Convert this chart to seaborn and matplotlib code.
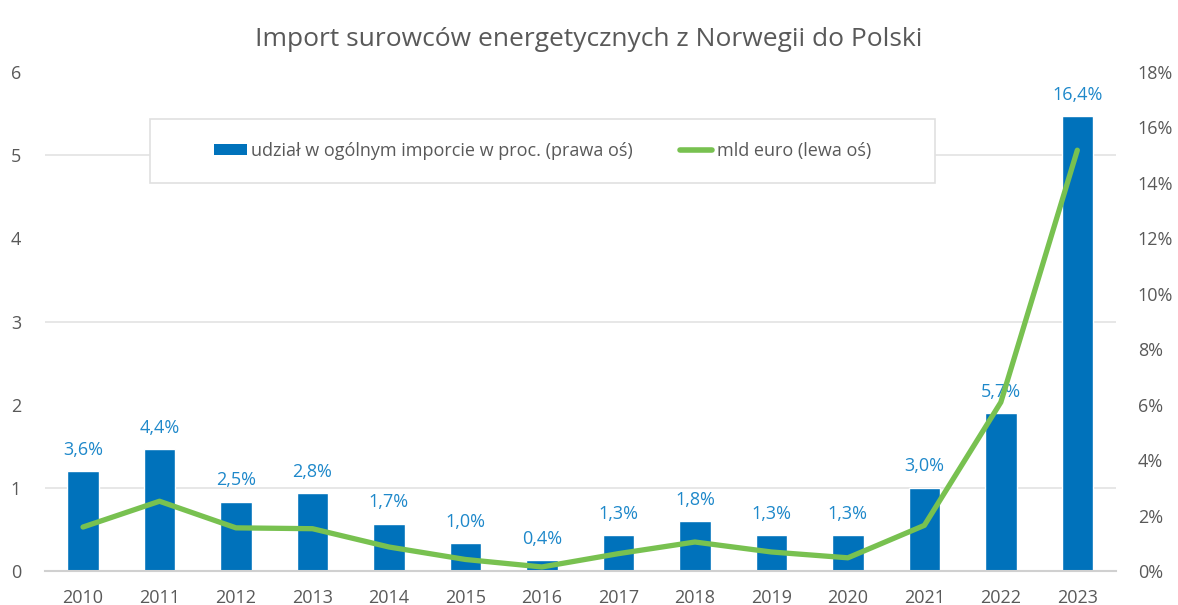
import numpy as np
import pandas as pd
import matplotlib.pyplot as plt
import seaborn as sns
from matplotlib.patches import Patch, Rectangle
from matplotlib.lines import Line2D

# Data
years = ['2010', '2011', '2012', '2013', '2014', '2015', '2016',
         '2017', '2018', '2019', '2020', '2021', '2022', '2023']
share_pct = [3.6, 4.4, 2.5, 2.8, 1.7, 1.0, 0.4, 1.3, 1.8, 1.3, 1.3, 3.0, 5.7, 16.4]
bln_eur = [0.53, 0.84, 0.52, 0.51, 0.29, 0.14, 0.05, 0.21, 0.35, 0.23, 0.16, 0.55, 2.03, 5.06]

bar_label = 'udział w ogólnym imporcie w proc. (prawa oś)'
line_label = 'mld euro (lewa oś)'
title = 'Import surowców energetycznych z Norwegii do Polski'

df = pd.DataFrame({'year': years, 'share': share_pct, 'value': bln_eur})

sns.set_theme(style='white')
plt.rcParams['font.family'] = ['Open Sans', 'DejaVu Sans']

BLUE = '#0072BB'
LABEL_BLUE = '#1E88CA'
GREEN = '#78C150'
GREY = '#595959'

fig = plt.figure(figsize=(11.78, 6.05), dpi=100)
ax = fig.add_axes([0.038, 0.056, 0.909, 0.825])

# Bars on the percentage scale (ticks on the right)
sns.barplot(data=df, x='year', y='share', color=BLUE, width=0.41,
            saturation=1, ax=ax, zorder=2)

# Line on the EUR scale (ticks on the left), drawn above the bars
ax2 = ax.twinx()
sns.lineplot(data=df, x='year', y='value', color=GREEN, linewidth=3.8,
             sort=False, ax=ax2, solid_capstyle='round')

ax.set_ylim(0, 18)
ax.set_yticks(np.arange(0, 19, 2))
ax.set_yticklabels([f'{v}%' for v in range(0, 19, 2)])
ax.set_yticks(np.arange(0, 19, 3), minor=True)
ax.yaxis.tick_right()
ax.grid(False)
ax.grid(which='minor', axis='y', color='#E3E3E3', linewidth=1.2, zorder=0)
ax.set_axisbelow(True)
ax.bar_label(ax.containers[0],
             labels=[f'{v:.1f}%'.replace('.', ',') for v in share_pct],
             padding=9, color=LABEL_BLUE, fontsize=13)

ax2.set_ylim(0, 6)
ax2.set_yticks(range(0, 7))
ax2.yaxis.tick_left()
ax2.grid(False)

for a in (ax, ax2):
    a.set_xlabel('')
    a.set_ylabel('')
    for side in ('top', 'left', 'right', 'bottom'):
        a.spines[side].set_visible(False)
    a.tick_params(axis='both', which='both', length=0, labelsize=13, colors=GREY)
ax.tick_params(axis='y', which='minor', labelright=False, labelleft=False)
ax.spines['bottom'].set_visible(True)
ax.spines['bottom'].set_color('#D0D0D0')
ax.spines['bottom'].set_linewidth(1.5)
ax.tick_params(axis='x', pad=13)
ax.tick_params(axis='y', pad=16)
ax2.tick_params(axis='y', pad=17)
ax.set_xlim(-0.5, len(years) - 0.5)

# Legend box drawn as its own frame, entries centred inside it
W, H = 1178, 605
fig.patches.append(Rectangle((150 / W, 1 - 183 / H), 785 / W, 64 / H,
                             transform=fig.transFigure, fill=True,
                             facecolor='white', edgecolor='#E0E0E0',
                             linewidth=1.2, zorder=5))
handles = [Patch(facecolor=BLUE, edgecolor='none'),
           Line2D([0], [0], color=GREEN, linewidth=4, solid_capstyle='round')]
leg = fig.legend(handles, [bar_label, line_label], loc='center',
                 bbox_to_anchor=(542.5 / W, 1 - 151 / H), ncol=2, fontsize=13,
                 frameon=False, borderpad=0,
                 handlelength=1.8, handleheight=0.6, handletextpad=0.25,
                 columnspacing=2.6, labelcolor=GREY, borderaxespad=0)
leg.set_zorder(6)

fig.suptitle(title, y=0.955, fontsize=19, color=GREY)

fig.savefig('out.png', dpi=100)
